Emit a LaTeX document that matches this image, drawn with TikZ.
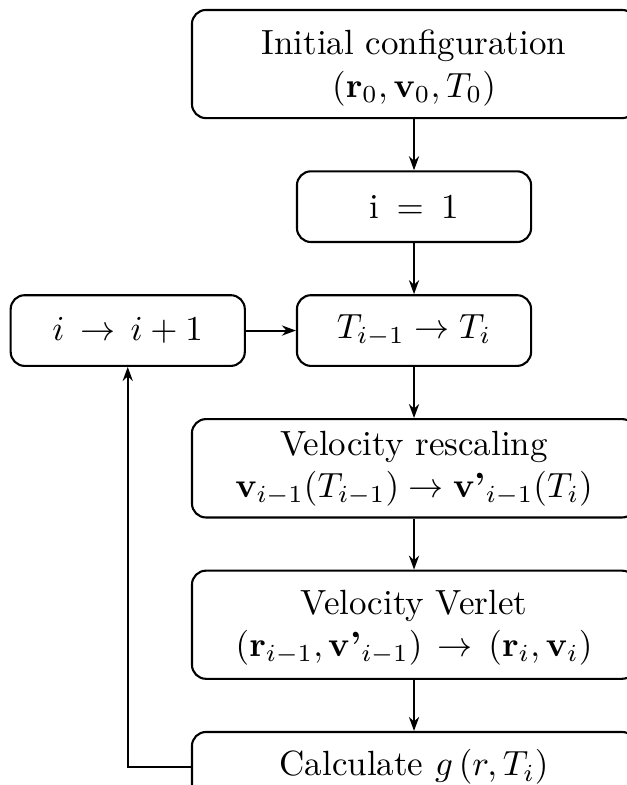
\documentclass[tikz,border=0pt]{standalone}
\usetikzlibrary{positioning,arrows.meta}

\tikzset{
  block/.style={draw, semithick, rounded corners=4pt, align=center},
  wide/.style={block, minimum width=126.9pt},
  small/.style={block, minimum width=66.9pt, minimum height=20.2pt},
}

\begin{document}
\begin{tikzpicture}[node distance=14.6pt, semithick, >={Stealth[length=4pt,width=2.9pt]}]
  \useasboundingbox (0,0) rectangle (179.1pt,-224.3pt);
  \node[wide, minimum height=30.9pt] (init) at (118.3pt,-18.3pt)
    {\rule{0pt}{9.4pt}Initial configuration\\[0.3pt] $(\mathbf{r}_0, \mathbf{v}_0, T_0)$};
  \node[small] (start) [below=of init] {i\enspace$=$\enspace1};
  \node[small] (temp) [below=of start] {$T_{i-1} \rightarrow T_i$};
  \node[small] (incr) [left=14.3pt of temp] {$i \,\rightarrow\, i + 1$};
  \node[wide, minimum height=28pt] (rescale) [below=of temp]
    {Velocity rescaling\\ $\mathbf{v}_{i-1}(T_{i-1}) \rightarrow \textbf{v'}_{i-1}(T_i)$};
  \node[wide, minimum height=30.9pt] (verlet) [below=of rescale]
    {\rule{0pt}{8.4pt}Velocity Verlet\\ $(\mathbf{r}_{i-1}, \textbf{v'}_{i-1}) \,\rightarrow\, (\mathbf{r}_i, \mathbf{v}_i)$};
  \node[wide, minimum height=20pt] (calc) [below=of verlet]
    {Calculate $g\left(r, T_i\right)$};
  \path[->]
    (init) edge (start)
    (start) edge (temp)
    (incr) edge (temp)
    (temp) edge (rescale)
    (rescale) edge (verlet)
    (verlet) edge (calc);
  % loop back to the increment
  \draw[->] (calc) -| (incr);
\end{tikzpicture}
\end{document}
